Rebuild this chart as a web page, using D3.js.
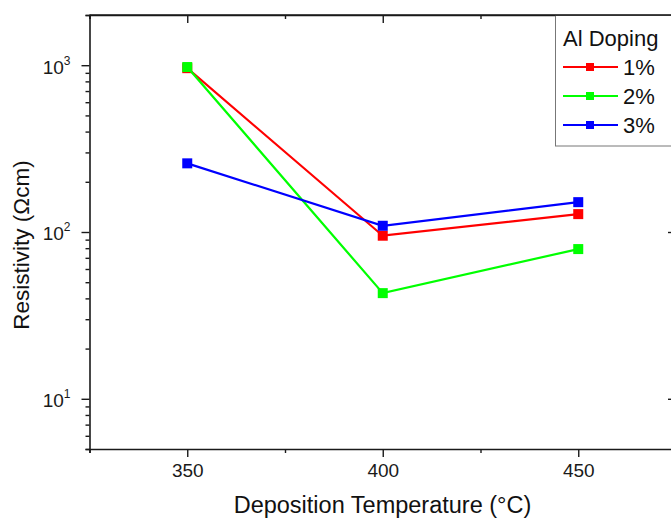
<!DOCTYPE html>
<html>
<head>
<meta charset="utf-8">
<script src="https://cdn.jsdelivr.net/npm/d3@7/dist/d3.min.js"></script>
<style>
  body { margin: 0; background: #fff; }
  svg { display: block; font-family: "Liberation Sans", Arial, sans-serif; }
</style>
</head>
<body>
<svg id="chart" width="671" height="521"></svg>
<script>
// ---- data ----
const temperatures = [350, 400, 450];
const seriesNames = ["1%", "2%", "3%"];
const doping1 = [960, 95, 128];
const doping2 = [975, 43, 79];
const doping3 = [258, 109, 151];
const seriesColors = ["#ff0000", "#00ff00", "#0000ff"];
const xMajorTicks = [350, 400, 450];
const xMinorTicks = [325, 375, 425, 475];
const yMajorTicks = [10, 100, 1000];
const yMajorExp = ["1", "2", "3"];
const yMinorTicks = [5, 6, 7, 8, 9, 20, 30, 40, 50, 60, 70, 80, 90, 200, 300, 400, 500, 600, 700, 800, 900, 2000];
const legendTitle = "Al Doping";
const xTitle = "Deposition Temperature (°C)";
const yTitle = "Resistivity (Ωcm)";

const series = [doping1, doping2, doping3].map((vals, i) => ({
  name: seriesNames[i], color: seriesColors[i],
  points: temperatures.map((t, j) => ({ t, v: vals[j] }))
}));

const svg = d3.select("#chart");
const L = 89.5, R = 676, T = 15, B = 449;
const x = d3.scaleLinear().domain([325, 475]).range([L, R]);
const y = d3.scaleLog().domain([5, 2000]).range([B, T]);

function styleAxis(g) {
  g.select(".domain").attr("stroke", "#1a1a1a").attr("stroke-width", 1.6);
  g.selectAll(".tick line").attr("stroke", "#1a1a1a").attr("stroke-width", 1.4);
}

// bottom axis
const gb = svg.append("g").attr("transform", `translate(0,${B})`);
gb.call(d3.axisBottom(x).tickValues(xMinorTicks).tickSize(4).tickFormat("")).call(styleAxis);
const gb2 = svg.append("g").attr("transform", `translate(0,${B})`);
gb2.call(d3.axisBottom(x).tickValues(xMajorTicks).tickSize(8).tickPadding(7).tickFormat(d3.format("d")))
   .call(styleAxis);
gb2.attr("font-size", 19).attr("font-family", "Liberation Sans, Arial, sans-serif");
gb2.select(".domain").remove();
gb2.selectAll("text").attr("font-size", 19).attr("fill", "#1a1a1a");

// top axis (inward ticks)
const gt = svg.append("g").attr("transform", `translate(0,${T})`);
gt.call(d3.axisBottom(x).tickValues(xMinorTicks).tickSize(4).tickFormat("")).call(styleAxis);
const gt2 = svg.append("g").attr("transform", `translate(0,${T})`);
gt2.call(d3.axisBottom(x).tickValues(xMajorTicks).tickSize(8).tickFormat("")).call(styleAxis);
gt2.select(".domain").remove();

// left axis
const gl = svg.append("g").attr("transform", `translate(${L},0)`);
gl.call(d3.axisLeft(y).tickValues(yMinorTicks).tickSize(4).tickFormat("")).call(styleAxis);
const gl2 = svg.append("g").attr("transform", `translate(${L},0)`);
gl2.call(d3.axisLeft(y).tickValues(yMajorTicks).tickSize(8).tickPadding(11).tickFormat(""))
   .call(styleAxis);
gl2.attr("font-size", 19).attr("font-family", "Liberation Sans, Arial, sans-serif");
gl2.select(".domain").remove();
gl2.selectAll(".tick").each(function(d) {
  const t = d3.select(this).select("text")
    .attr("font-size", 19).attr("fill", "#1a1a1a").attr("dy", "0.42em");
  t.text(null);
  t.append("tspan").text("10");
  t.append("tspan").attr("font-size", 12).attr("dy", "-0.75em").text(yMajorExp[yMajorTicks.indexOf(d)]);
});

// right axis (inward ticks)
const gr = svg.append("g").attr("transform", `translate(${R},0)`);
gr.call(d3.axisRight(y).tickValues(yMinorTicks).tickSize(-4).tickFormat("")).call(styleAxis);
const gr2 = svg.append("g").attr("transform", `translate(${R},0)`);
gr2.call(d3.axisRight(y).tickValues(yMajorTicks).tickSize(-8).tickFormat("")).call(styleAxis);
gr2.select(".domain").remove();

// lines and markers
const line = d3.line().x(d => x(d.t)).y(d => y(d.v));
series.forEach(s => {
  svg.append("path").datum(s.points)
    .attr("d", line).attr("fill", "none").attr("stroke", s.color).attr("stroke-width", 2.2);
  svg.append("g").selectAll("rect").data(s.points).join("rect")
    .attr("x", d => x(d.t) - 5).attr("y", d => y(d.v) - 5)
    .attr("width", 10).attr("height", 10).attr("fill", s.color);
});

// legend
const lg = svg.append("g");
lg.append("rect").attr("x", 555.5).attr("y", 15.5).attr("width", 200).attr("height", 130.5)
  .attr("fill", "#fff").attr("stroke", "#777").attr("stroke-width", 1);
lg.append("text").attr("x", 563).attr("y", 46).attr("font-size", 22).attr("fill", "#111").text(legendTitle);
series.forEach((s, i) => {
  const yy = 67 + i * 29;
  lg.append("line").attr("x1", 563).attr("x2", 618).attr("y1", yy).attr("y2", yy)
    .attr("stroke", s.color).attr("stroke-width", 2);
  lg.append("rect").attr("x", 586).attr("y", yy - 4).attr("width", 8).attr("height", 8).attr("fill", s.color);
  lg.append("text").attr("x", 623).attr("y", yy + 8).attr("font-size", 22).attr("fill", "#111").text(s.name);
});
// redraw top axis line above legend
svg.append("line").attr("x1", L).attr("x2", R).attr("y1", T).attr("y2", T)
  .attr("stroke", "#1a1a1a").attr("stroke-width", 1.6);

// axis titles
svg.append("text").attr("x", 382.5).attr("y", 513).attr("text-anchor", "middle")
  .attr("font-size", 23.5).attr("fill", "#111").text(xTitle);
svg.append("text").attr("transform", "translate(29,245) rotate(-90)").attr("text-anchor", "middle")
  .attr("font-size", 22.5).attr("fill", "#111").text(yTitle);
</script>
</body>
</html>
